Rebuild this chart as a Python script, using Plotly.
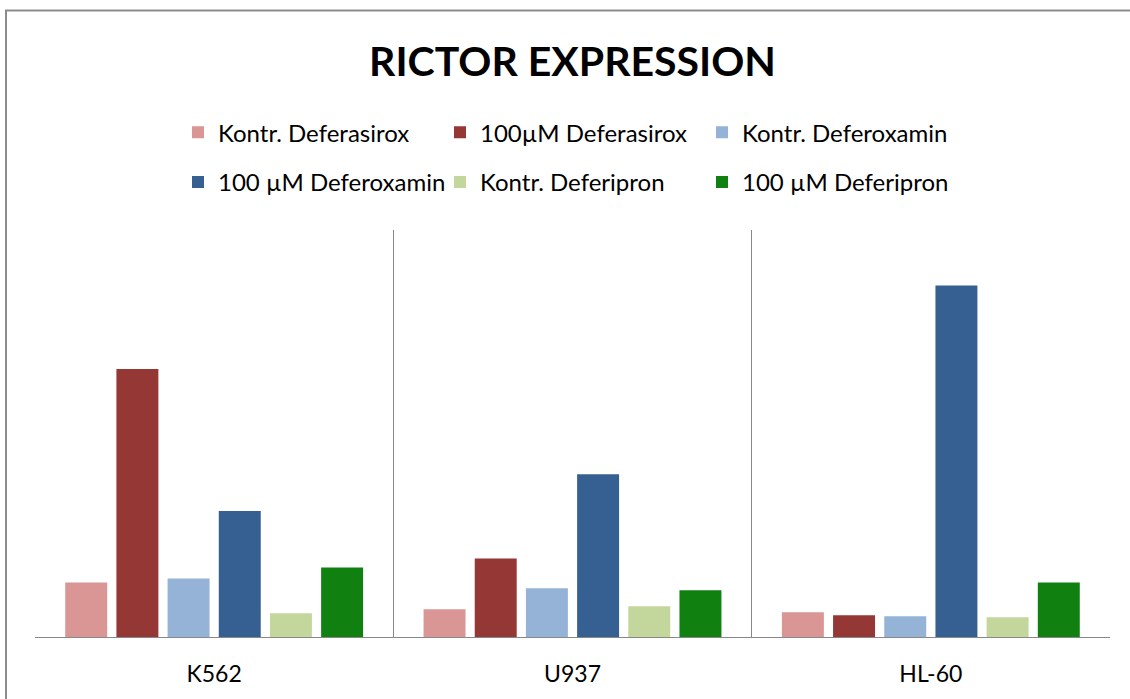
import plotly.graph_objects as go

categories = ["K562", "U937", "HL-60"]
series_names = ["Kontr. Deferasirox", "100µM Deferasirox", "Kontr. Deferoxamin",
                "100 µM Deferoxamin", "Kontr. Deferipron", "100 µM Deferipron"]
kontr_deferasirox = [0.55, 0.28, 0.25]
m100_deferasirox = [2.70, 0.79, 0.22]
kontr_deferoxamin = [0.59, 0.49, 0.21]
m100_deferoxamin = [1.27, 1.64, 3.54]
kontr_deferipron = [0.24, 0.31, 0.20]
m100_deferipron = [0.70, 0.47, 0.55]
series_values = [kontr_deferasirox, m100_deferasirox, kontr_deferoxamin,
                 m100_deferoxamin, kontr_deferipron, m100_deferipron]
colors = ["#D99694", "#953735", "#95B3D7", "#376092", "#C3D69B", "#108010"]

fig = go.Figure()
for i, (name, vals, col) in enumerate(zip(series_names, series_values, colors)):
    fig.add_trace(go.Bar(
        x=categories, y=vals, name=name, marker_color=col,
        marker_line_width=0,
        legend="legend" if i < 3 else "legend2",
    ))

W, H = 1130, 699
L, T = 35, 230
R = W - 1110
B = H - 640
pw, ph = W - L - R, H - T - B

def px_x(p):  # page pixel -> paper x
    return (p - L) / pw

def px_y(p):  # page pixel -> paper y
    return (H - B - p) / ph

FONT = "Lato, Carlito, sans-serif"
legend_font = dict(family=FONT, size=24, color="#000000")
legend_common = dict(orientation="h", xanchor="left", yanchor="middle",
                     entrywidth=217, entrywidthmode="pixels", font=legend_font,
                     itemclick=False, itemdoubleclick=False, bgcolor="rgba(0,0,0,0)")
fig.update_layout(
    width=W, height=H,
    margin=dict(l=L, r=R, t=T, b=B),
    paper_bgcolor="white", plot_bgcolor="white",
    barmode="group", bargap=0.143, bargroupgap=0.18,
    title=dict(text="<b>RICTOR EXPRESSION</b>", x=0.5, xref="paper",
               y=1 - 62 / H, yref="container", yanchor="middle", xanchor="center",
               font=dict(family=FONT, size=41, color="#000000")),
    legend=dict(x=px_x(178), y=px_y(132), **legend_common),
    legend2=dict(x=px_x(178), y=px_y(182), **legend_common),
    showlegend=True,
    xaxis=dict(showline=True, linecolor="#888888", linewidth=1, mirror=False,
               showgrid=True, gridcolor="#888888", gridwidth=1, tickson="boundaries",
               ticks="", tickfont=dict(family=FONT, size=23, color="#000000"),
               ticklabelstandoff=16, zeroline=False),
    yaxis=dict(range=[0, 4.1], showticklabels=False, showgrid=False, zeroline=False,
               showline=False, ticks=""),
)

# outer chart border
fig.add_shape(type="rect", xref="paper", yref="paper",
              x0=px_x(6), x1=px_x(1150), y0=px_y(720), y1=px_y(9),
              line=dict(color="#8C8C8C", width=2), fillcolor="rgba(0,0,0,0)", layer="above")

fig.write_html("out.html",
               config={"displayModeBar": False},
               post_script="document.body.style.margin='0px';document.body.style.overflow='hidden';")
